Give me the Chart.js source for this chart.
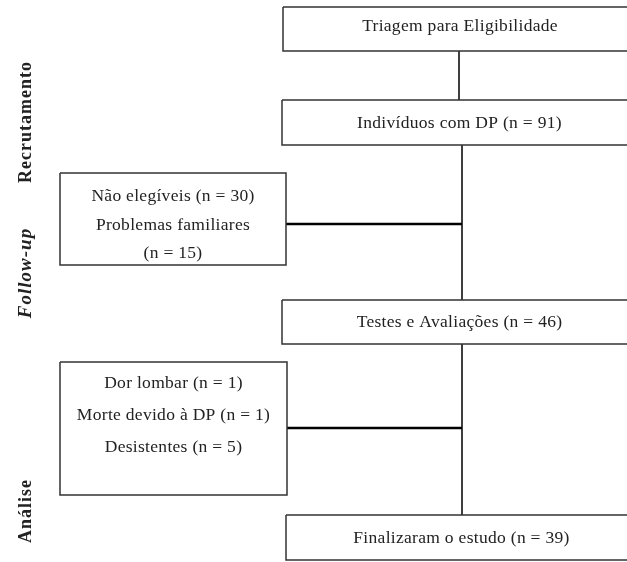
<!DOCTYPE html>
<html>
<head>
<meta charset="utf-8">
<script src="https://cdn.jsdelivr.net/npm/chart.js@4.4.0/dist/chart.umd.min.js"></script>
<style>
  body { margin: 0; background: #fff; }
  #wrap { width: 627px; height: 562px; }
</style>
</head>
<body>
<div id="wrap"><canvas id="flow" width="627" height="562"></canvas></div>
<script>
// stage labels on the left side
const stageLabels = ["Recrutamento", "Follow-up", "Análise"];
const stageItalic = [false, true, false];
const stageSize = [18, 19, 18];
const stageY = [122, 273, 511];

// box texts (counts from the flow)
const boxLines = [
    ["Triagem para Eligibilidade"],
    ["Indivíduos com DP (n = 91)"],
    ["Não elegíveis (n = 30)", "Problemas familiares", "(n = 15)"],
    ["Testes e Avaliações (n = 46)"],
    ["Dor lombar (n = 1)", "Morte devido à DP (n = 1)", "Desistentes (n = 5)"],
    ["Finalizaram o estudo (n = 39)"]
];
const lineY = [[26], [123], [196, 225, 253], [322], [383, 415, 447], [538]];

// box layout (x0, x1, y0, y1)
const boxX0 = [283, 282, 60, 282, 60, 286];
const boxX1 = [637, 637, 286, 637, 287, 637];
const boxY0 = [7, 100, 173, 300, 362, 515];
const boxY1 = [51, 145, 265, 344, 495, 560];

// connector segments
const linkX0 = [459, 462, 462, 286, 287];
const linkX1 = [459, 462, 462, 462, 462];
const linkY0 = [51, 145, 344, 224, 428];
const linkY1 = [100, 300, 515, 224, 428];

const datasets = [];
boxX0.forEach((x0, i) => {
    const x1 = boxX1[i], y0 = boxY0[i], y1 = boxY1[i];
    datasets.push({
        data: [{x: x0, y: y0}, {x: x1, y: y0}, {x: x1, y: y1}, {x: x0, y: y1}, {x: x0, y: y0}],
        borderColor: "#333",
        borderWidth: 1.5
    });
});
linkX0.forEach((x0, i) => {
    datasets.push({
        data: [{x: x0, y: linkY0[i]}, {x: linkX1[i], y: linkY1[i]}],
        borderColor: "#000",
        borderWidth: i < 3 ? 1.5 : 2.5
    });
});

const textPlugin = {
    id: "flowText",
    afterDatasetsDraw(chart) {
        const ctx = chart.ctx;
        const sx = chart.scales.x, sy = chart.scales.y;
        ctx.save();
        ctx.fillStyle = "#222";
        ctx.textAlign = "center";
        ctx.textBaseline = "middle";
        ctx.font = "17.5px 'Liberation Serif'";
        ctx.letterSpacing = "0.3px";
        boxLines.forEach((lines, i) => {
            const cx = sx.getPixelForValue((boxX0[i] + boxX1[i]) / 2);
            lines.forEach((t, j) => {
                ctx.fillText(t, cx, sy.getPixelForValue(lineY[i][j]));
            });
        });
        ctx.letterSpacing = "1px";
        stageLabels.forEach((t, i) => {
            ctx.save();
            ctx.translate(sx.getPixelForValue(26), sy.getPixelForValue(stageY[i]));
            ctx.rotate(-Math.PI / 2);
            ctx.font = (stageItalic[i] ? "italic " : "") + "bold " + stageSize[i] + "px 'Liberation Serif'";
            ctx.fillText(t, 0, 0);
            ctx.restore();
        });
        ctx.restore();
    }
};

new Chart(document.getElementById("flow"), {
    type: "scatter",
    data: { datasets: datasets },
    options: {
        responsive: false,
        animation: false,
        showLine: true,
        layout: { padding: 0 },
        elements: { point: { radius: 0, hoverRadius: 0 }, line: { tension: 0 } },
        plugins: { legend: { display: false }, tooltip: { enabled: false } },
        scales: {
            x: { type: "linear", min: 0, max: 627, display: false },
            y: { type: "linear", min: 0, max: 562, reverse: true, display: false }
        }
    },
    plugins: [textPlugin]
});
</script>
</body>
</html>
